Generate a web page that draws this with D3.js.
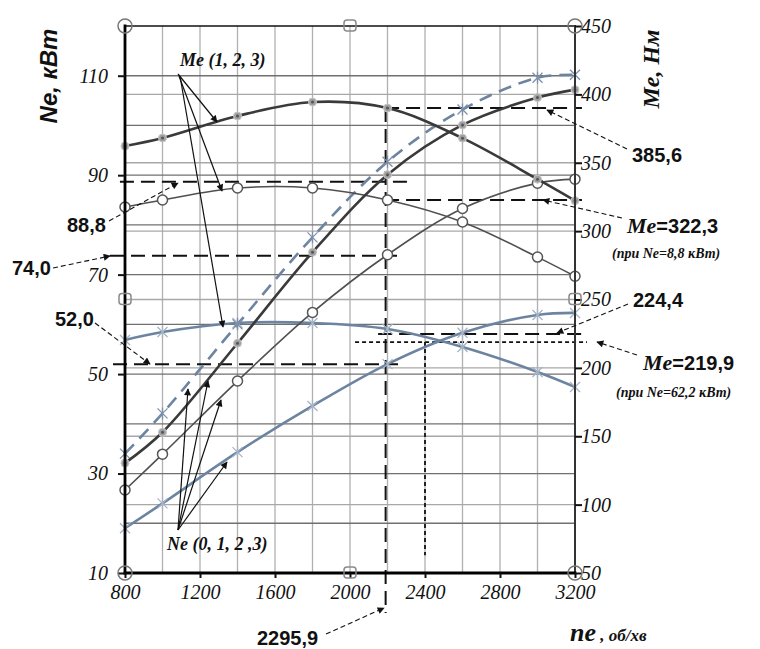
<!DOCTYPE html>
<html>
<head>
<meta charset="utf-8">
<script src="https://cdnjs.cloudflare.com/ajax/libs/d3/7.8.5/d3.min.js"></script>
<style>
  body { margin: 0; background: #fff; }
  svg { display: block; }
</style>
</head>
<body>
<div class="chart"></div>
<script>
// engine speed points, об/хв
const speeds = [800, 1000, 1400, 1800, 2200, 2600, 3000, 3200];
// power Ne, кВт (left axis)
const ne0 = [19.0, 24.0, 34.3, 43.6, 52.0, 58.3, 61.9, 62.3];
const ne1 = [26.7, 33.9, 48.6, 62.4, 74.0, 83.3, 88.4, 89.2];
const ne2 = [32.1, 38.3, 56.2, 74.5, 90.1, 100.1, 105.6, 107.2];
const ne3 = [34.0, 42.1, 60.0, 77.5, 92.7, 103.2, 109.6, 110.2];
// torque Me, Нм (right axis)
const me1 = [220.4, 226.2, 232.8, 232.8, 228.4, 215.3, 197.0, 186.0];
const me2 = [317.6, 322.8, 331.5, 331.5, 322.8, 306.7, 281.0, 267.0];
const me3 = [362.2, 368.1, 384.2, 394.4, 390.0, 368.0, 338.0, 322.3];

const xTicks = [800, 1200, 1600, 2000, 2400, 2800, 3200];
const neTicks = [10, 30, 50, 70, 90, 110];
const meTicks = [50, 100, 150, 200, 250, 300, 350, 400, 450];

// reference lines
const neRefs = [[88.7, 773, 2336], [73.8, 720, 2251], [52.0, 736, 2256]];
const meRefs = [[390.0, 2187, 3237], [322.8, 2187, 3237], [224.8, 2150, 3237]];
const meDotted = [218.9, 2027, 3264];
const nDotted = [2400, 218.9, 63];
const nDashed = [2190, 390.0, 20.8];

const W = 760, H = 649;
const x = d3.scaleLinear().domain([800, 3200]).range([125, 575]);
const yNe = d3.scaleLinear().domain([10, 120]).range([573, 26]);
const yMe = d3.scaleLinear().domain([50, 450]).range([573, 26]);

const svg = d3.select('.chart').append('svg')
  .attr('width', W).attr('height', H);

const serif = '"Liberation Serif", "Times New Roman", serif';
const sans = '"Liberation Sans", Arial, sans-serif';

// grid
const grid = svg.append('g');
grid.selectAll('.vg').data(d3.range(1000, 3200, 200)).enter().append('line')
  .attr('x1', d => x(d)).attr('x2', d => x(d))
  .attr('y1', 26).attr('y2', 573)
  .style('stroke', '#b0b0b0').style('stroke-width', 1.3);
grid.selectAll('.mg').data(d3.range(100, 450, 50)).enter().append('line')
  .attr('x1', 125).attr('x2', 575)
  .attr('y1', d => yMe(d)).attr('y2', d => yMe(d))
  .style('stroke', '#a8a8a8').style('stroke-width', 1.3);
grid.selectAll('.ng').data(d3.range(20, 120, 10)).enter().append('line')
  .attr('x1', 125).attr('x2', 575)
  .attr('y1', d => yNe(d)).attr('y2', d => yNe(d))
  .style('stroke', '#707070').style('stroke-width', 1.3);

// reference lines
const refs = svg.append('g').style('fill', 'none');
neRefs.forEach(r => {
  refs.append('line')
    .attr('x1', x(r[1])).attr('x2', x(r[2]))
    .attr('y1', yNe(r[0])).attr('y2', yNe(r[0]))
    .style('stroke', '#111').style('stroke-width', 2).style('stroke-dasharray', '14,7');
});
meRefs.forEach(r => {
  refs.append('line')
    .attr('x1', x(r[1])).attr('x2', x(r[2]))
    .attr('y1', yMe(r[0])).attr('y2', yMe(r[0]))
    .style('stroke', '#111').style('stroke-width', 2).style('stroke-dasharray', '14,7');
});
refs.append('line')
  .attr('x1', x(nDashed[0])).attr('x2', x(nDashed[0]))
  .attr('y1', yMe(nDashed[1])).attr('y2', yMe(nDashed[2]))
  .style('stroke', '#111').style('stroke-width', 2).style('stroke-dasharray', '14,7');
refs.append('line')
  .attr('x1', x(meDotted[1])).attr('x2', x(meDotted[2]))
  .attr('y1', yMe(meDotted[0])).attr('y2', yMe(meDotted[0]))
  .style('stroke', '#111').style('stroke-width', 1.8).style('stroke-dasharray', '4,3');
refs.append('line')
  .attr('x1', x(nDotted[0])).attr('x2', x(nDotted[0]))
  .attr('y1', yMe(nDotted[1])).attr('y2', yMe(nDotted[2]))
  .style('stroke', '#111').style('stroke-width', 1.8).style('stroke-dasharray', '4,3');

// curves
const series = [
  { vals: ne0, y: yNe, color: '#6d84a0', w: 2.6, dash: null, mark: 'star', mcol: '#a7b4c4' },
  { vals: me1, y: yMe, color: '#6d84a0', w: 2.6, dash: null, mark: 'star', mcol: '#a7b4c4' },
  { vals: ne3, y: yNe, color: '#6d84a0', w: 2.6, dash: '13,8', mark: 'star', mcol: '#7d90aa' },
  { vals: ne1, y: yNe, color: '#505050', w: 1.6, dash: null, mark: 'circle', mcol: '#555' },
  { vals: me2, y: yMe, color: '#505050', w: 1.6, dash: null, mark: 'circle', mcol: '#555' },
  { vals: ne2, y: yNe, color: '#3a3a3a', w: 2.6, dash: null, mark: 'dot', mcol: '#999' },
  { vals: me3, y: yMe, color: '#3a3a3a', w: 2.6, dash: null, mark: 'dot', mcol: '#999' }
];

series.forEach(s => {
  const pts = speeds.map((n, i) => [n, s.vals[i]]);
  const line = d3.line()
    .x(d => x(d[0])).y(d => s.y(d[1]))
    .curve(d3.curveCatmullRom.alpha(0.5));
  svg.append('path').datum(pts)
    .attr('d', line)
    .style('fill', 'none')
    .style('stroke', s.color)
    .style('stroke-width', s.w)
    .style('stroke-dasharray', s.dash);

  const m = svg.append('g').selectAll('g').data(pts).enter().append('g')
    .attr('transform', d => `translate(${x(d[0])}, ${s.y(d[1])})`);
  if (s.mark === 'star') {
    m.append('path')
      .attr('d', 'M-5,-5L5,5M-5,5L5,-5M0,-6L0,6')
      .style('stroke', s.mcol).style('stroke-width', 1.3).style('fill', 'none');
  } else if (s.mark === 'circle') {
    m.append('circle').attr('r', 5)
      .style('fill', '#fff').style('stroke', s.mcol).style('stroke-width', 1.5);
  } else {
    m.append('circle').attr('r', 4)
      .style('fill', '#a0a0a0').style('stroke', '#c8c8c8').style('stroke-width', 1);
    m.append('circle').attr('r', 1.5).style('fill', '#555');
  }
});

// frame
const frame = svg.append('g').style('stroke-linecap', 'square');
frame.append('line').attr('x1', 125).attr('x2', 575).attr('y1', 26).attr('y2', 26)
  .style('stroke', '#111').style('stroke-width', 1.6);
frame.append('line').attr('x1', 575).attr('x2', 575).attr('y1', 26).attr('y2', 573)
  .style('stroke', '#333').style('stroke-width', 2);
frame.append('line').attr('x1', 125).attr('x2', 125).attr('y1', 26).attr('y2', 573)
  .style('stroke', '#000').style('stroke-width', 2.8);
frame.append('line').attr('x1', 125).attr('x2', 575).attr('y1', 573).attr('y2', 573)
  .style('stroke', '#000').style('stroke-width', 2.8);

// axes
const leftAxis = svg.append('g').attr('transform', 'translate(125,0)')
  .call(d3.axisLeft(yNe).tickValues(neTicks).tickSize(7).tickFormat(d3.format('d')));
const rightAxis = svg.append('g').attr('transform', 'translate(575,0)')
  .call(d3.axisRight(yMe).tickValues(meTicks).tickSize(7).tickFormat(d3.format('d')));
const bottomAxis = svg.append('g').attr('transform', 'translate(0,573)')
  .call(d3.axisBottom(x).tickValues(xTicks).tickSize(5).tickFormat(d3.format('d')));
[leftAxis, rightAxis, bottomAxis].forEach(a => {
  a.select('.domain').remove();
  a.selectAll('line').style('stroke', '#111').style('stroke-width', 2);
  a.selectAll('text')
    .style('font-family', serif).style('font-style', 'italic')
    .style('font-size', '20px').style('fill', '#111');
});
leftAxis.selectAll('text').attr('x', -17);
rightAxis.selectAll('text').attr('x', 6);
bottomAxis.selectAll('text').attr('y', 12);

// corner markers
const corners = [[800, 50], [3200, 50], [800, 450], [3200, 450]];
svg.append('g').selectAll('circle').data(corners).enter().append('circle')
  .attr('cx', d => x(d[0])).attr('cy', d => yMe(d[1])).attr('r', 7)
  .style('fill', 'none').style('stroke', '#777').style('stroke-width', 1.5);
const mids = [[2000, 450], [2000, 50], [800, 250], [3200, 250]];
svg.append('g').selectAll('rect').data(mids).enter().append('rect')
  .attr('x', d => x(d[0]) - 6).attr('y', d => yMe(d[1]) - 6)
  .attr('width', 12).attr('height', 11).attr('rx', 3)
  .style('fill', 'none').style('stroke', '#8a8a8a').style('stroke-width', 1.5);

// axis titles
svg.append('text')
  .attr('transform', 'translate(57,76) rotate(-90)')
  .style('text-anchor', 'middle')
  .style('font-family', sans).style('font-weight', 'bold').style('font-style', 'italic')
  .style('font-size', '24px').style('fill', '#111')
  .text('Ne, кВт');
svg.append('text')
  .attr('transform', 'translate(659,69) rotate(-90)')
  .style('text-anchor', 'middle')
  .style('font-family', serif).style('font-weight', 'bold').style('font-style', 'italic')
  .style('font-size', '24px').style('fill', '#111')
  .text('Me, Нм');
const xt = svg.append('text').attr('x', 570).attr('y', 641)
  .style('font-family', serif).style('font-weight', 'bold').style('font-style', 'italic')
  .style('fill', '#111');
xt.append('tspan').style('font-size', '26px').text('ne');
xt.append('tspan').style('font-size', '17px').text(' , об/хв');

// arrows
const defs = svg.append('defs');
defs.append('marker').attr('id', 'ah')
  .attr('viewBox', '0 0 10 10').attr('refX', 9).attr('refY', 5)
  .attr('markerWidth', 9).attr('markerHeight', 7).attr('orient', 'auto')
  .attr('markerUnits', 'userSpaceOnUse')
  .append('path').attr('d', 'M0,0L10,5L0,10Z').style('fill', '#111');

function arrow(x1, y1, x2, y2, dashed) {
  svg.append('line')
    .attr('x1', x1).attr('y1', y1).attr('x2', x2).attr('y2', y2)
    .attr('marker-end', 'url(#ah)')
    .style('stroke', '#111').style('stroke-width', dashed ? 1.1 : 1.2)
    .style('stroke-dasharray', dashed ? '5,3' : null);
}

// curve labels
svg.append('text').attr('x', 180).attr('y', 66)
  .style('font-family', serif).style('font-weight', 'bold').style('font-style', 'italic')
  .style('font-size', '18px').style('fill', '#111')
  .text('Me (1, 2, 3)');
arrow(178, 74, 217, 122);
arrow(179, 76, 222, 191);
arrow(180, 76, 223, 327);

svg.append('text').attr('x', 167).attr('y', 550)
  .style('font-family', serif).style('font-weight', 'bold').style('font-style', 'italic')
  .style('font-size', '18px').style('fill', '#111')
  .text('Ne (0, 1, 2 ,3)');
arrow(178, 530, 227, 462);
arrow(178, 530, 188, 389);
arrow(178, 530, 208, 381);
arrow(178, 530, 221, 400);

// value labels
function boldNum(tx, ty, t) {
  svg.append('text').attr('x', tx).attr('y', ty)
    .style('font-family', sans).style('font-weight', 'bold')
    .style('font-size', '20px').style('fill', '#111')
    .text(t);
}
boldNum(67, 232, '88,8');
arrow(109, 221, 178, 183, true);
boldNum(12, 275, '74,0');
arrow(53, 268, 110, 256, true);
boldNum(55, 326, '52,0');
arrow(95, 323, 150, 364, true);
boldNum(257, 645, '2295,9');
arrow(326, 634, 384, 608, true);
boldNum(632, 162, '385,6');
arrow(627, 149, 547, 110, true);
boldNum(633, 307, '224,4');
arrow(628, 304, 557, 333, true);

function meLabel(tx, ty, num, note, nx, ny) {
  const t = svg.append('text').attr('x', tx).attr('y', ty).style('fill', '#111');
  t.append('tspan')
    .style('font-family', serif).style('font-weight', 'bold').style('font-style', 'italic')
    .style('font-size', '22px').text('Me');
  t.append('tspan')
    .style('font-family', sans).style('font-weight', 'bold')
    .style('font-size', '20px').text('=' + num);
  svg.append('text').attr('x', nx).attr('y', ny)
    .style('font-family', serif).style('font-weight', 'bold').style('font-style', 'italic')
    .style('font-size', '14px').style('fill', '#111')
    .text(note);
}
meLabel(627, 233, '322,3', '(при Ne=8,8 кВт)', 612, 258);
arrow(622, 218, 543, 200, true);
meLabel(643, 370, '219,9', '(при Ne=62,2 кВт)', 616, 397);
arrow(637, 355, 597, 342, true);
</script>
</body>
</html>
